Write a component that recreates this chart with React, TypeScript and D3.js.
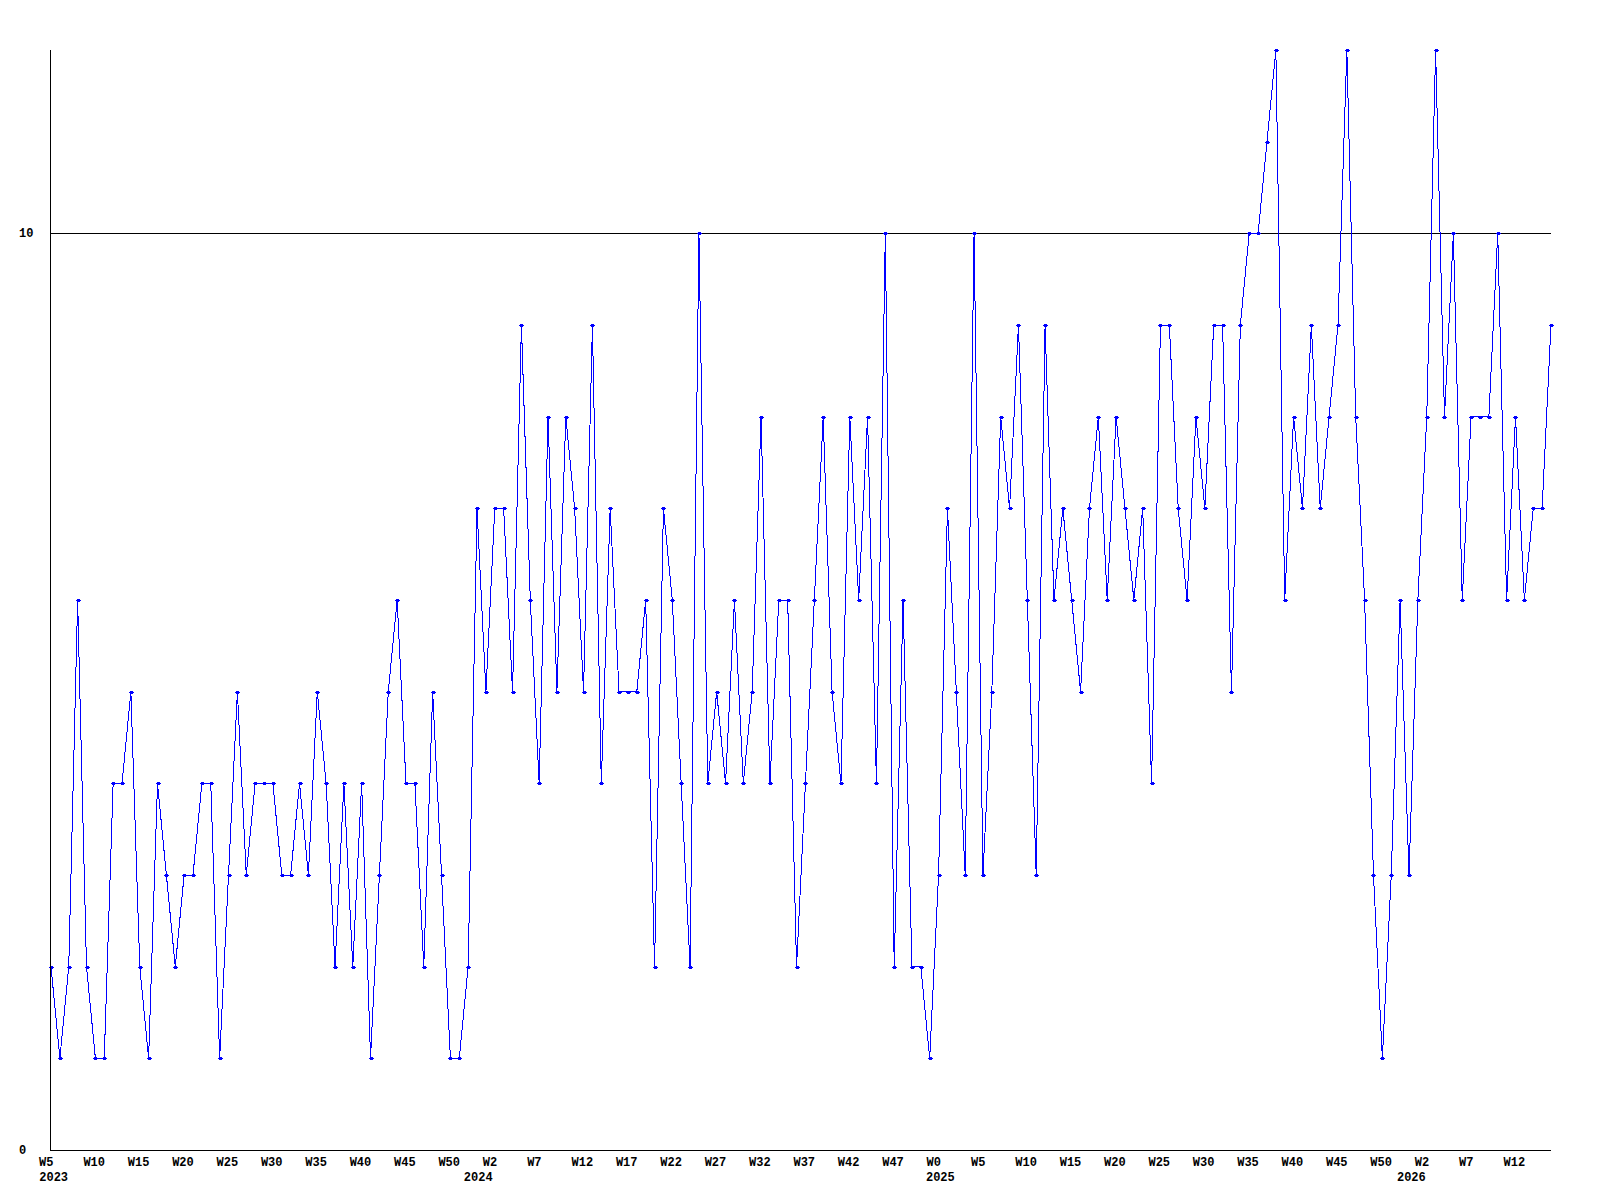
import React from "react";
import * as d3 from "d3";

const values: number[] = [
  2, 1, 2, 6, 2, 1, 1, 4, 4, 5, 2, 1, 4, 3, 2, 3, 3, 4, 4, 1,
  3, 5, 3, 4, 4, 4, 3, 3, 4, 3, 5, 4, 2, 4, 2, 4, 1, 3, 5, 6,
  4, 4, 2, 5, 3, 1, 1, 2, 7, 5, 7, 7, 5, 9, 6, 4, 8, 5, 8, 7,
  5, 9, 4, 7, 5, 5, 5, 6, 2, 7, 6, 4, 2, 10, 4, 5, 4, 6, 4, 5,
  8, 4, 6, 6, 2, 4, 6, 8, 5, 4, 8, 6, 8, 4, 10, 2, 6, 2, 2, 1,
  3, 7, 5, 3, 10, 3, 5, 8, 7, 9, 6, 3, 9, 6, 7, 6, 5, 7, 8, 6,
  8, 7, 6, 7, 4, 9, 9, 7, 6, 8, 7, 9, 9, 5, 9, 10, 10, 11, 12, 6,
  8, 7, 9, 7, 8, 9, 12, 8, 6, 3, 1, 3, 6, 3, 6, 8, 12, 8, 10, 6,
  8, 8, 8, 10, 6, 8, 6, 7, 7, 9,
];

const weekTickLabels: string[] = [
  "W5", "W10", "W15", "W20", "W25", "W30", "W35", "W40", "W45", "W50",
  "W2", "W7", "W12", "W17", "W22", "W27", "W32", "W37", "W42", "W47",
  "W0", "W5", "W10", "W15", "W20", "W25", "W30", "W35", "W40", "W45", "W50",
  "W2", "W7", "W12",
];
const weekTickStep = 5;

const yearLabels: string[] = ["2023", "2024", "2025", "2026"];
const yearStartIndex: number[] = [0.3, 48.14, 100.2, 153.27];

const yTickValues: number[] = [0, 10];
const gridValues: number[] = [10];
const yMax = 12;

const FONT = "'Liberation Mono', 'DejaVu Sans Mono', monospace";

export default function App() {
  const width = 1600;
  const height = 1200;
  const x = d3.scaleLinear().domain([0, values.length - 1]).range([51, 1551]);
  const y = d3.scaleLinear().domain([0, yMax]).range([1150, 50]);
  const line = d3
    .line<number>()
    .x((_, i) => x(i))
    .y((d) => y(d));

  const left = 50.5;
  const right = x(values.length - 1);

  return (
    <svg
      width={width}
      height={height}
      style={{ position: "absolute", left: 0, top: 0, background: "#fff" }}
    >
      <rect x={0} y={0} width={width} height={height} fill="#fff" />
      {gridValues.map((g) => (
        <line
          key={"g" + g}
          x1={50}
          x2={right}
          y1={Math.round(y(g)) + 0.5}
          y2={Math.round(y(g)) + 0.5}
          stroke="#000"
          strokeWidth={1}
          shapeRendering="crispEdges"
        />
      ))}
      <path
        d={line(values) || ""}
        fill="none"
        stroke="#0000ff"
        strokeWidth={1}
        shapeRendering="crispEdges"
      />
      {values.map((v, i) => (
        <g key={"m" + i} transform={`translate(${Math.round(x(i))},${Math.round(y(v))})`}>
          <rect x={-2} y={0} width={5} height={1} fill="#0000ff" shapeRendering="crispEdges" />
          <rect x={-1} y={-1} width={3} height={3} fill="#0000ff" shapeRendering="crispEdges" />
        </g>
      ))}
      <line
        x1={left}
        x2={left}
        y1={50}
        y2={1150}
        stroke="#000"
        strokeWidth={1}
        shapeRendering="crispEdges"
      />
      <line
        x1={50}
        x2={right}
        y1={1150.5}
        y2={1150.5}
        stroke="#000"
        strokeWidth={1}
        shapeRendering="crispEdges"
      />
      {yTickValues.map((t) => (
        <text
          key={"y" + t}
          x={19}
          y={y(t) + 4}
          fontFamily={FONT}
          fontWeight="bold"
          fontSize={12}
          fill="#000"
        >
          {t}
        </text>
      ))}
      {weekTickLabels.map((lab, k) => (
        <text
          key={"w" + k}
          x={x(k * weekTickStep) - 12}
          y={1166}
          fontFamily={FONT}
          fontWeight="bold"
          fontSize={12}
          fill="#000"
        >
          {lab}
        </text>
      ))}
      {yearLabels.map((lab, k) => (
        <text
          key={"yr" + k}
          x={x(yearStartIndex[k])}
          y={1181}
          textAnchor="middle"
          fontFamily={FONT}
          fontWeight="bold"
          fontSize={12}
          fill="#000"
        >
          {lab}
        </text>
      ))}
    </svg>
  );
}
